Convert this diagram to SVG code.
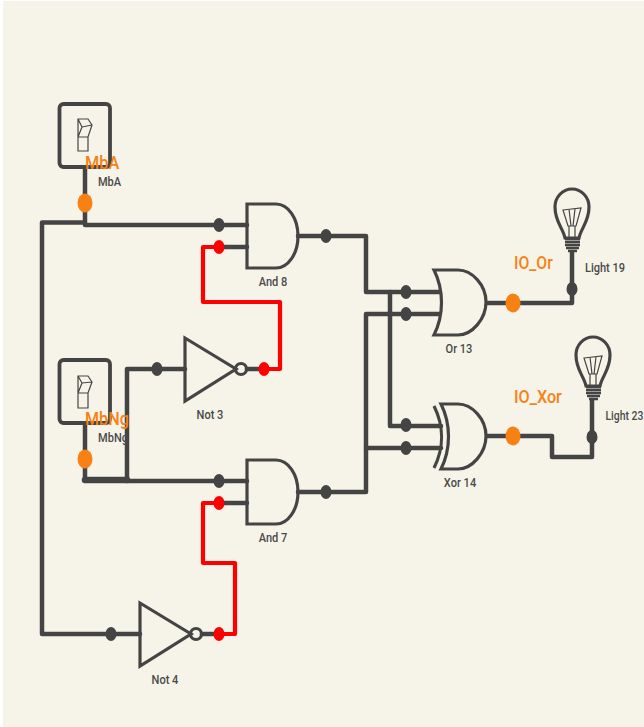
<svg xmlns="http://www.w3.org/2000/svg" width="644" height="727" viewBox="0 0 644 727">
<style>
.w{fill:none;stroke:#444;stroke-width:4.5;stroke-linejoin:round;stroke-linecap:round}
.k{fill:none;stroke:#444;stroke-width:6.5;stroke-linecap:round}
.r{fill:none;stroke:#f00;stroke-width:4.2;stroke-linejoin:round;stroke-linecap:round}
.g{fill:none;stroke:#444;stroke-width:3.2;stroke-linejoin:miter}
.gf{fill:#f6f4e9;stroke:#444;stroke-width:3.2;stroke-linejoin:miter}
.t{fill:none;stroke:#444;stroke-width:1.2}
.b{fill:none;stroke:#444;stroke-width:2.4}
.d{fill:#444}.rd{fill:#f00}.o{fill:#f78113}
text{font-family:Roboto,"Liberation Sans",sans-serif}
.l{font-size:13px;font-weight:500;fill:#4a4a4a;text-anchor:middle}
.a{font-size:19px;font-weight:500;fill:#f78113}
</style>
<rect width="644" height="727" fill="#fff"/>
<rect x="3" y="1" width="641" height="726" fill="#f6f4e9"/>
<g id="connectors">
<path class="w" d="M85 168V225H247M85 222.5H42V634H140"/>
<path class="w" d="M85 424V480H127V369H185M127 481H247"/>
<path class="k" d="M85 480H127"/>
<path class="w" d="M298 236H366V292H440"/>
<path class="w" d="M298 492H366V314H440"/>
<path class="w" d="M390 292V426H441M366 448H441"/>
<path class="w" d="M486 303H572V252"/>
<path class="w" d="M486 436H552V457H592V400"/>
<path class="w" d="M247 247H219M247 503H219M247 369H265M202 634H219"/>
<path class="r" d="M219 247H203V302H280V369H264"/>
<path class="r" d="M219 503H203V563H235V634H219"/>
</g>
<g id="dots">
<ellipse class="d" cx="219" cy="225" rx="5.5" ry="7"/>
<ellipse class="rd" cx="219" cy="247" rx="5.5" ry="7"/>
<ellipse class="d" cx="326" cy="236" rx="5.5" ry="7"/>
<ellipse class="d" cx="157" cy="369" rx="5.5" ry="7"/>
<ellipse class="rd" cx="264" cy="369" rx="5.5" ry="7"/>
<ellipse class="d" cx="219" cy="481" rx="5.5" ry="7"/>
<ellipse class="rd" cx="219" cy="503" rx="5.5" ry="7"/>
<ellipse class="d" cx="326" cy="492" rx="5.5" ry="7"/>
<ellipse class="d" cx="111" cy="634" rx="5.5" ry="7"/>
<ellipse class="rd" cx="219" cy="634" rx="5.5" ry="7"/>
<ellipse class="d" cx="406" cy="292" rx="5.5" ry="7"/>
<ellipse class="d" cx="406" cy="314" rx="5.5" ry="7"/>
<ellipse class="d" cx="406" cy="425" rx="5.5" ry="7"/>
<ellipse class="d" cx="406" cy="448" rx="5.5" ry="7"/>
<ellipse class="d" cx="572" cy="289" rx="5.5" ry="7"/>
<ellipse class="d" cx="592" cy="437" rx="5.5" ry="7"/>
<ellipse class="o" cx="85" cy="203" rx="7.5" ry="9.5"/>
<ellipse class="o" cx="85" cy="459" rx="7.5" ry="9.5"/>
<ellipse class="o" cx="513" cy="303" rx="7.5" ry="9.5"/>
<ellipse class="o" cx="513" cy="436" rx="7.5" ry="9.5"/>
</g>
<g id="MbA">
<rect x="59.5" y="104" width="50.5" height="63" rx="4" class="gf" style="stroke-width:3.8;stroke-linejoin:round;fill:none"/>
<path class="t" d="M78 119H88L92 125L88 137H78ZM78 137V151H88V137M78 119L82 127L78 137M82 127L92 125"/>
<text class="a" transform="translate(85 169) scale(.86 1)">MbA</text><text class="l" transform="translate(109.500 186) scale(.85 1)">MbA</text>
</g>
<g id="MbNg">
<rect x="59.500" y="360" width="50.500" height="63" rx="4" class="gf" style="stroke-width:3.8;stroke-linejoin:round;fill:none"/>
<path class="t" d="M78 376H88L92 382L88 393H78ZM78 393V408H88V393M78 376L82 383L78 393M82 383L92 382"/>
<text class="a" transform="translate(85 425) scale(.85 1)">MbNg</text><text class="l" transform="translate(113 442) scale(.85 1)">MbNg</text>
</g>
<g id="And8"><path class="g" d="M247 204H276A22 32 0 0 1 298 236A22 32 0 0 1 276 268H247Z"/><text class="l" transform="translate(273 286) scale(.85 1)">And 8</text></g>
<g id="And7"><path class="g" d="M247 460H276A22 32 0 0 1 298 492A22 32 0 0 1 276 524H247Z"/><text class="l" transform="translate(273 542) scale(.85 1)">And 7</text></g>
<g id="Not3"><path class="g" d="M185 338L236 369L185 401Z"/><circle class="g" cx="241" cy="369" r="5.500"/><text class="l" transform="translate(210 419) scale(.85 1)">Not 3</text></g>
<g id="Not4"><path class="g" d="M140 603L191 634L140 666Z"/><circle class="g" cx="196" cy="634" r="5.500"/><text class="l" transform="translate(165 684) scale(.85 1)">Not 4</text></g>
<g id="Or13"><path class="gf" d="M434 270H458C472 270 486 285 486 302C486 319 472 335 458 335H434C444 315 444 290 434 270Z"/><text class="l" transform="translate(459 353) scale(.85 1)">Or 13</text></g>
<g id="Xor14"><path class="gf" d="M441 404H458C472 404 486 419 486 436C486 453 472 469 458 469H441C451 449 451 424 441 404Z"/><path class="g" d="M434 406C444 426 444 448 434 468"/><text class="l" transform="translate(460 487) scale(.85 1)">Xor 14</text></g>
<g id="Light19"><path class="g" d="M565 238C563 228 555 222 555 207A17 18 0 0 1 589 207C589 222 581 228 579 238Z"/><path class="t" d="M563 210L581 208L576 226H568ZM569 209L571 226M575 209L573 226M569 226H575V238M569 226V238"/><path class="b" d="M565 239H580M565 242H580M565 245H580M566 248H579M568 251H577"/><text class="l" transform="translate(605 272) scale(.85 1)">Light 19</text><text class="a" transform="translate(514 269) scale(.83 1)">IO_Or</text></g>
<g id="Light23"><path class="g" d="M586 386C584 376 576 370 576 355A17 18 0 0 1 610 355C610 370 602 376 600 386Z"/><path class="t" d="M584 358L602 356L597 374H589ZM590 357L592 374M596 357L594 374M590 374H596V386M590 374V386"/><path class="b" d="M586 387H601M586 390H601M586 393H601M587 396H600M589 399H598"/><text class="l" style="text-anchor:start" transform="translate(605.500 420) scale(.8 1)">Light 23</text><text class="a" transform="translate(514 403) scale(.85 1)">IO_Xor</text></g>
</svg>
